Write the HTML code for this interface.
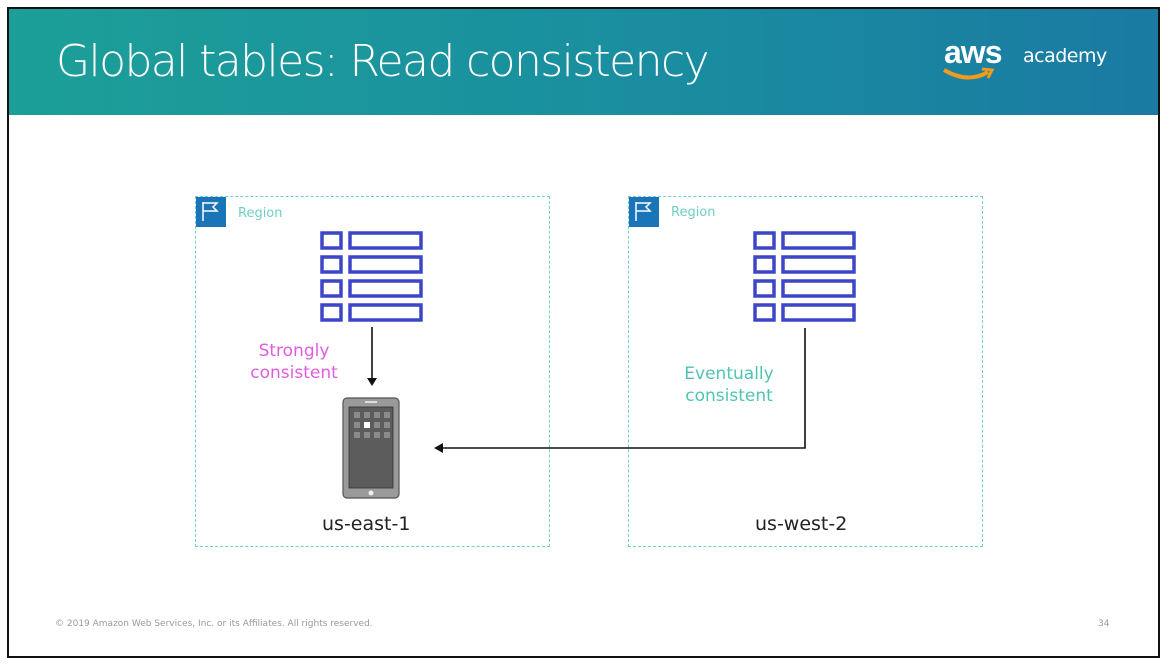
<!DOCTYPE html>
<html><head><style>
body{margin:0;width:1169px;height:667px;background:#fff;position:relative;overflow:hidden;font-family:"DejaVu Sans","Liberation Sans",sans-serif}
.frame{position:absolute;left:7px;top:7px;width:1153px;height:651px;border:2px solid #111;box-sizing:border-box}
.hdr{position:absolute;left:9px;top:9px;width:1151px;height:106px;background:linear-gradient(90deg,#1c9f98 0%,#1a8ea0 55%,#1a7aa2 100%)}
.title{position:absolute;left:56px;top:36px;color:#fff;font-size:44px;font-weight:300;letter-spacing:-1.6px;font-family:"DejaVu Sans",sans-serif}
.reg{position:absolute;border:1px dashed #6fcfcf;box-sizing:border-box}
.flag{position:absolute;left:0;top:0;width:30px;height:30px;background:#1a74b8}
.rl{position:absolute;font-size:13px;color:#6fcfc3}
.lbl{position:absolute;font-size:17px;text-align:center;line-height:22px}
</style></head><body>
<div class="hdr"></div>
<div class="title">Global tables: Read consistency</div>
<div style="position:absolute;left:944px;top:34px;color:#fff;font-size:32px;font-weight:bold;font-family:'Liberation Sans',sans-serif;letter-spacing:-1px">aws</div>
<div style="position:absolute;left:1023px;top:45px;color:#fff;font-size:19px;letter-spacing:-0.5px">academy</div>
<svg style="position:absolute;left:940px;top:64px" width="60" height="22"><path d="M4 6 Q28 20 48 8" stroke="#f19a1c" stroke-width="4" fill="none"/><path d="M42 5 L52 6 L48 14" stroke="#f19a1c" stroke-width="3" fill="none"/></svg>
<div class="frame"></div>

<div class="reg" style="left:195px;top:196px;width:355px;height:351px"><div class="flag"></div></div>
<div class="reg" style="left:628px;top:196px;width:355px;height:351px"><div class="flag"></div></div>
<div class="rl" style="left:238px;top:206px">Region</div>
<div class="rl" style="left:671px;top:205px">Region</div>

<svg style="position:absolute;left:0;top:0" width="1169" height="667">
<g fill="none" stroke="#fff" stroke-width="1.5"><path d="M203 202 V221 M203 203 H217 L213 207 L217 211 H203"/><path d="M636 202 V221 M636 203 H650 L646 207 L650 211 H636"/></g>
<g fill="none" stroke="#3d46c9" stroke-width="3.5">
<rect x="322" y="233" width="19" height="15"/><rect x="350" y="233" width="71" height="15"/>
<rect x="322" y="257" width="19" height="15"/><rect x="350" y="257" width="71" height="15"/>
<rect x="322" y="281" width="19" height="15"/><rect x="350" y="281" width="71" height="15"/>
<rect x="322" y="305" width="19" height="15"/><rect x="350" y="305" width="71" height="15"/>
<rect x="755" y="233" width="19" height="15"/><rect x="783" y="233" width="71" height="15"/>
<rect x="755" y="257" width="19" height="15"/><rect x="783" y="257" width="71" height="15"/>
<rect x="755" y="281" width="19" height="15"/><rect x="783" y="281" width="71" height="15"/>
<rect x="755" y="305" width="19" height="15"/><rect x="783" y="305" width="71" height="15"/>
</g>
<g stroke="#111" stroke-width="1.6" fill="none"><path d="M372 327 V380"/><path d="M805 328 V448 H442"/></g>
<path d="M367 378 L372 386 L377 378Z" fill="#111"/>
<path d="M443 443 L434 448 L443 453Z" fill="#111"/>
<rect x="343" y="398" width="56" height="100" rx="4" fill="#9a9a9a" stroke="#555" stroke-width="1.2"/>
<rect x="349" y="407" width="44" height="81" fill="#5c5c5c" stroke="#333" stroke-width="0.8"/>
<rect x="365" y="401" width="12" height="2" fill="#ddd"/>
<circle cx="371" cy="493" r="2.5" fill="#eee"/>
<g fill="#8a8a8a">
<rect x="354" y="412" width="6" height="6"/><rect x="364" y="412" width="6" height="6"/><rect x="374" y="412" width="6" height="6"/><rect x="384" y="412" width="6" height="6"/>
<rect x="354" y="422" width="6" height="6"/><rect x="374" y="422" width="6" height="6"/><rect x="384" y="422" width="6" height="6"/>
<rect x="354" y="432" width="6" height="6"/><rect x="364" y="432" width="6" height="6"/><rect x="374" y="432" width="6" height="6"/><rect x="384" y="432" width="6" height="6"/>
</g>
<rect x="364" y="422" width="6" height="6" fill="#fff"/>
</svg>

<div class="lbl" style="left:244px;top:340px;width:100px;color:#e05ce0">Strongly<br>consistent</div>
<div class="lbl" style="left:676px;top:363px;width:106px;color:#4fc4b4">Eventually<br>consistent</div>
<div style="position:absolute;left:322px;top:513px;font-size:19px;color:#222">us-east-1</div>
<div style="position:absolute;left:755px;top:513px;font-size:19px;color:#222">us-west-2</div>
<div style="position:absolute;left:55px;top:619px;font-size:9px;color:#999">© 2019 Amazon Web Services, Inc. or its Affiliates. All rights reserved.</div>
<div style="position:absolute;left:1098px;top:619px;font-size:9px;color:#999">34</div>
</body></html>
